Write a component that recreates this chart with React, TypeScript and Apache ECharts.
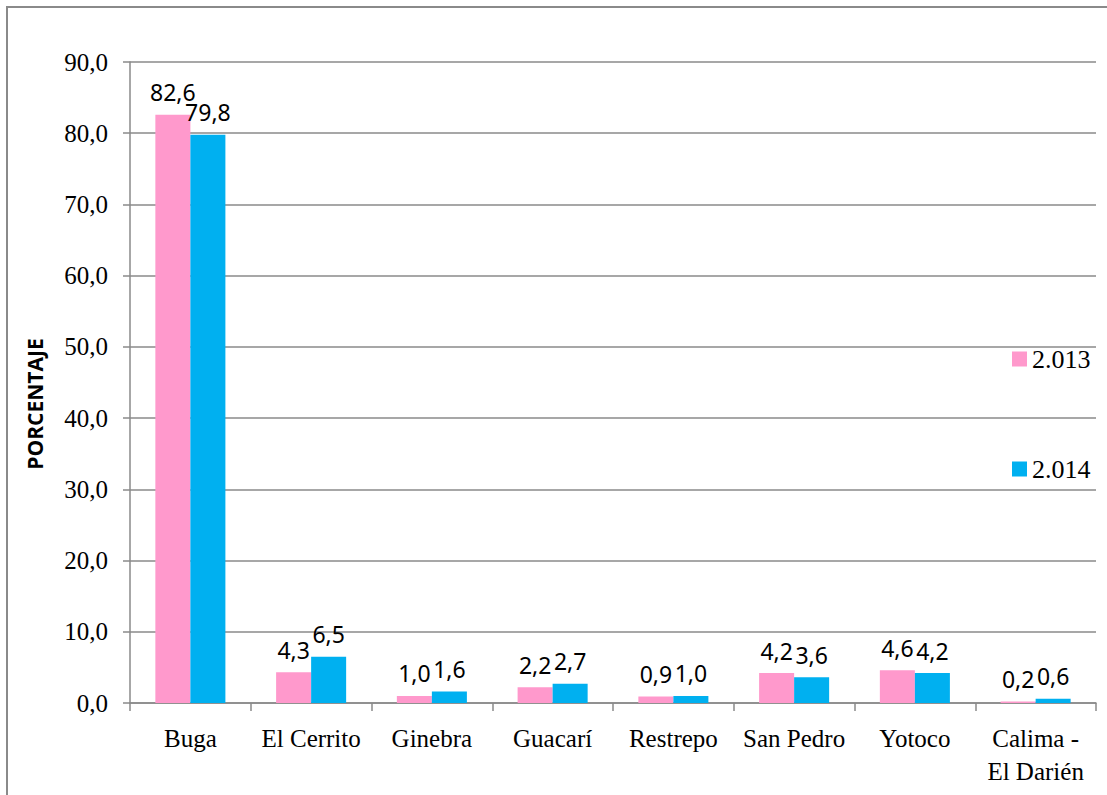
import React, { useEffect, useRef } from "react";
import * as echarts from "echarts";

const categories = ["Buga", "El Cerrito", "Ginebra", "Guacarí", "Restrepo", "San Pedro", "Yotoco", "Calima -\nEl Darién"];
const values2013 = [82.6, 4.3, 1.0, 2.2, 0.9, 4.2, 4.6, 0.2];
const values2014 = [79.8, 6.5, 1.6, 2.7, 1.0, 3.6, 4.2, 0.6];
const seriesNames = ["2.013", "2.014"];
const yTicks = { min: 0, max: 90, interval: 10 };
const yAxisTitle = "PORCENTAJE";

const fmt = (v: number) => v.toFixed(1).replace(".", ",");

export default function App() {
  const ref = useRef<HTMLDivElement>(null);
  useEffect(() => {
    if (!ref.current) return;
    const chart = echarts.init(ref.current, undefined, { renderer: "svg" });
    const serif = "'Liberation Serif', 'Times New Roman', serif";
    const sans = "'Noto Sans', 'Open Sans', sans-serif";
    const grey = "#8a8a8a";
    const label = {
      show: true,
      position: "top" as const,
      distance: 11,
      color: "#000",
      fontFamily: sans,
      fontSize: 23,
      formatter: (p: any) => fmt(p.value),
    };
    const legendText = { fontFamily: serif, fontSize: 26, color: "#000", lineHeight: 26 };
    chart.setOption({
      animation: false,
      backgroundColor: "#fff",
      grid: { left: 130, right: 11, top: 62, bottom: 92, containLabel: false },
      legend: [
        {
          data: [seriesNames[0]],
          left: 1007,
          top: 341,
          orient: "vertical",
          itemWidth: 15,
          itemHeight: 15,
          icon: "rect",
          itemGap: 6,
          textStyle: legendText,
        },
        {
          data: [seriesNames[1]],
          left: 1007,
          top: 451,
          orient: "vertical",
          itemWidth: 15,
          itemHeight: 15,
          icon: "rect",
          itemGap: 6,
          textStyle: legendText,
        },
      ],
      xAxis: {
        type: "category",
        data: categories,
        axisLine: { lineStyle: { color: grey, width: 1.5 } },
        axisTick: { show: true, length: 8, lineStyle: { color: grey, width: 1.5 } },
        axisLabel: {
          color: "#000",
          fontFamily: serif,
          fontSize: 25,
          margin: 19,
          lineHeight: 33,
          interval: 0,
        },
      },
      yAxis: {
        type: "value",
        min: yTicks.min,
        max: yTicks.max,
        interval: yTicks.interval,
        axisLine: { show: true, lineStyle: { color: grey, width: 1.5 } },
        axisTick: { show: true, length: 7, lineStyle: { color: grey, width: 1.5 } },
        splitLine: { lineStyle: { color: grey, width: 1.5 } },
        axisLabel: {
          color: "#000",
          fontFamily: serif,
          fontSize: 25,
          margin: 22,
          formatter: (v: number) => fmt(v),
        },
      },
      series: [
        {
          name: seriesNames[0],
          type: "bar",
          data: values2013,
          barGap: "0%",
          barCategoryGap: "42%",
          itemStyle: { color: "#FF99CC" },
          label,
        },
        {
          name: seriesNames[1],
          type: "bar",
          data: values2014,
          barGap: "0%",
          barCategoryGap: "42%",
          itemStyle: { color: "#00B0F0" },
          label,
        },
      ],
      graphic: [
        {
          type: "rect",
          silent: true,
          shape: { x: 7, y: 7, width: 1200, height: 900 },
          style: { fill: "none", stroke: grey, lineWidth: 2 },
        },
        {
          type: "text",
          x: 35,
          y: 404,
          rotation: Math.PI / 2,
          style: {
            text: yAxisTitle,
            align: "center",
            verticalAlign: "middle",
            fontFamily: "'Open Sans', 'Liberation Sans', sans-serif",
            fontWeight: "bold",
            fontSize: 21,
            fill: "#000",
          },
        },
      ],
    });
    return () => chart.dispose();
  }, []);
  return (
    <div
      ref={ref}
      style={{ position: "fixed", left: 0, top: 0, width: 1107, height: 795 }}
    />
  );
}
